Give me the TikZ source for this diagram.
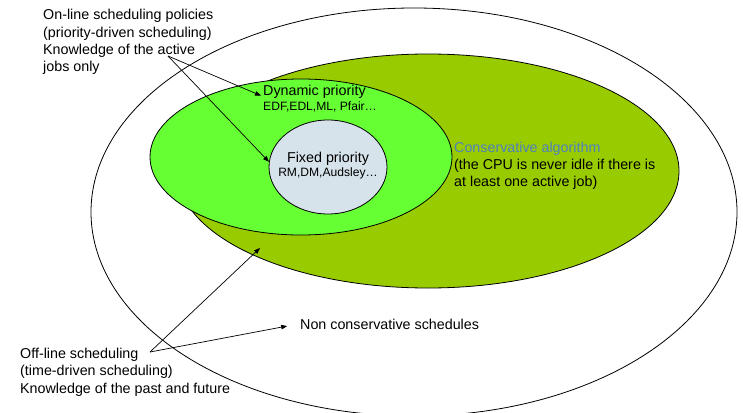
\documentclass[tikz,border=0pt]{standalone}
\usepackage{fontspec}
\setmainfont{Liberation Sans}
\usetikzlibrary{arrows.meta,shapes.geometric}
\definecolor{consgreen}{RGB}{153,204,0}
\definecolor{dyngreen}{RGB}{102,255,51}
\definecolor{fixblue}{RGB}{214,227,234}
\definecolor{consblue}{RGB}{79,129,189}

\begin{document}
\begin{tikzpicture}[
    x=1pt, y=-1pt,
    every node/.style={font=\fontsize{14.3}{17.3}\selectfont},
    region/.style={draw, ellipse, inner sep=0pt, line width=0.8pt},
    caption/.style={align=left, inner sep=2pt},
    small/.style={font=\fontsize{12.1}{14}\selectfont, inner sep=2pt},
    pointer/.style={-{Triangle[length=6pt, width=4.5pt]}, line width=0.7pt}
]
\useasboundingbox (0,0) rectangle (743,412);
% nested regions
\node[region, minimum width=646pt, minimum height=408pt] (all) at (414,212) {};
\node[region, fill=consgreen, minimum width=502pt, minimum height=234pt] (cons) at (428,171) {};
\node[region, fill=dyngreen, minimum width=302pt, minimum height=156pt] (dyn) at (301,157) {};
\node[region, fill=fixblue, minimum width=118pt, minimum height=94pt] (fixed) at (328,167) {};
% texts inside
\node[caption, anchor=west] (dynname) at (261,92) {Dynamic priority};
\node[small, anchor=west] (dynlist) at (261,107) {EDF,EDL,ML, Pfair…};
\node[caption] (fixname) at (328,159) {Fixed priority};
\node[small] (fixlist) at (328,173) {RM,DM,Audsley…};
\node[caption, anchor=west] (constext) at (452,166) {{\color{consblue}Conservative algorithm}\\(the CPU is never idle if there is\\at least one active job)};
\node[caption, anchor=west] (noncons) at (298,324) {Non conservative schedules};
% texts outside
\node[caption, anchor=west] (online) at (41,42) {On-line scheduling policies\\(priority-driven scheduling)\\Knowledge of the active\\jobs only};
\node[caption, anchor=west] (offline) at (18,372) {Off-line scheduling\\(time-driven scheduling)\\Knowledge of the past and future};
\coordinate (onlinesrc) at (168,56);
\coordinate (offlinesrc) at (150,352);
\coordinate (consmark) at (260,248);
% pointers
\draw[pointer] (onlinesrc) -- (dynname.base west);
\draw[pointer] (onlinesrc) -- (fixed.175);
\draw[pointer] (offlinesrc) -- (consmark);
\draw[pointer, shorten >=11pt] (offlinesrc) -- (noncons.west);
\end{tikzpicture}
\end{document}
